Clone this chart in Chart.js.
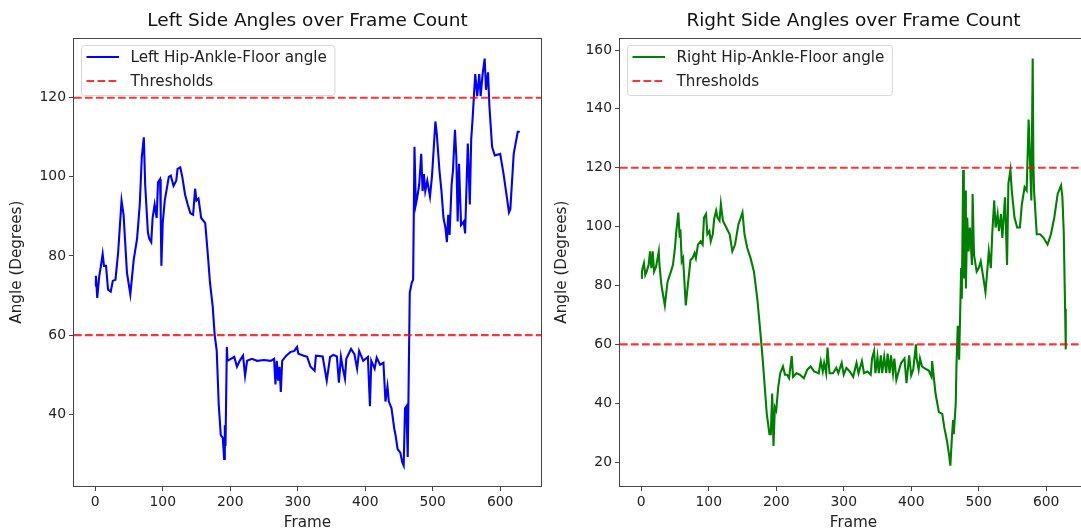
<!DOCTYPE html>
<html>
<head>
<meta charset="utf-8">
<script src="https://cdn.jsdelivr.net/npm/chart.js@4.4.0/dist/chart.umd.min.js"></script>
<style>
    html, body { margin: 0; padding: 0; background: #fff; overflow: hidden; width: 1081px; height: 532px; }
    .chart-box { position: absolute; top: 0; }
    #leftBox { left: 0; }
    #rightBox { left: 545px; }
</style>
</head>
<body>
<div class="chart-box" id="leftBox"><canvas id="leftChart" width="545" height="532"></canvas></div>
<div class="chart-box" id="rightBox"><canvas id="rightChart" width="560" height="532"></canvas></div>
<script>
// values (frame, angle)
const leftFrames = [0,1,3,6,8,11,13,16,19,23,26,30,34,39,42,47,52,57,62,66,69,72,74,78,80,83,85,88,91,93,
    96,97,98,100,103,109,112,116,120,122,126,129,133,137,141,145,148,150,153,157,163,167,170,174,177,180,183,186,189,191,
    192,193,195,196,201,206,210,214,219,222,225,232,240,250,260,265,267,269,271,273,275,277,283,289,295,299,301,309,314,319,
    325,327,337,343,348,353,358,361,364,367,370,372,379,384,388,391,397,404,407,409,414,417,422,427,430,433,435,439,443,445,
    448,452,455,457,459,461,463,466,469,471,473,475,477,480,483,485,487,489,492,496,499,504,506,510,513,516,519,521,523,525,
    528,530,533,535,537,539,542,546,548,552,555,557,559,563,566,569,571,574,577,579,582,584,588,592,600,605,610,613,615,620,
    626,629];
const leftAngles = [72.4,75,69.4,75,77,80.5,77.5,77.5,71.5,71,73.7,74,81,94,90.4,75.8,70.3,79,84.4,93,
    105,110,98,86,84.4,83.5,89.6,93,89.6,98.6,99.4,91,77.5,88.3,94,100,100.3,97.7,99,102,
    102.4,100,95.6,93,90.8,90.4,97,94,94.5,89.6,88.3,80,73.3,67.3,60,56.1,42.4,34.7,34,28.7,
    37.2,32,57,53.5,54,54.5,52,53.5,54.8,49.7,53.5,54,53.5,53.7,53.5,54,47.5,53.5,48.5,52,
    45.6,53.5,54.8,55.7,56,57,55.3,54.8,54.5,52,51,54.8,54.6,48.5,54.5,55,54.6,48,54.5,51.5,
    49,54,56.5,55.2,51.5,56,53.5,54.5,42,53.5,51.5,54.3,52.5,53,43.2,47,43.2,41.5,36.4,34.7,
    31.2,30.3,27.8,27,41.5,42,29.2,70.7,73.3,74,107.6,93,94.7,98,105.8,96.4,100.7,96.4,99,95,
    100.3,114,111,101.6,96.4,89.6,87,83.5,90.4,85.3,98,101.6,111.9,105,88.7,103.3,87.8,88.7,85.7,108.4,
    93,109.3,114.4,126,120.4,126,120.4,126,129.9,122,126.4,117.9,107.6,105.4,105.8,100.7,94.7,91,91.8,105.8,
    111.4,111.4];

const rightFrames = [0,1,2,4,6,8,11,13,15,17,19,22,26,27,30,35,39,44,47,50,
    52,55,57,58,60,62,66,69,73,76,79,81,84,88,91,93,96,98,101,103,
    106,108,111,113,116,118,121,126,131,135,139,144,146,150,153,157,162,167,172,177,
    180,183,186,190,192,194,196,198,200,203,206,210,213,216,219,223,225,230,235,241,
    246,251,256,263,266,269,271,274,276,279,284,289,292,297,300,304,309,314,319,322,
    327,330,335,340,342,345,347,350,352,355,357,360,363,365,368,370,373,375,378,380,
    385,390,393,397,400,403,407,408,411,413,416,421,426,430,431,436,441,446,449,453,
    456,458,460,462,463,466,467,469,471,473,474,475,477,478,480,481,483,485,487,490,
    491,493,497,500,503,507,510,513,515,518,520,523,525,528,530,533,535,539,542,544,
    547,549,553,557,561,564,568,571,574,576,578,580,581,582,586,591,596,602,607,612,
    617,622,624,626,628,629];
const rightAngles = [82.6,84.7,85.9,87.6,83.6,84.7,87,91.6,85.9,91.6,84.7,86.4,91.6,87,80,73.2,81.3,84.7,87,92.8,
    98.5,104.8,96.2,99.1,88.2,89.3,73.2,80,88.7,89.3,91,89.3,93.9,95,93.9,103.1,104.3,97.4,98.5,95,
    97.4,102.5,105.4,103.1,102,107.7,102,99.7,97.4,91.6,93.9,100.8,102,104.8,97.4,92.8,89.3,84.7,75.5,62.9,
    54.8,45.6,36.4,29.5,29.5,43.3,25.5,38.7,37.6,45.6,50.2,52.5,49.7,49.7,48.5,56,49,50.2,49.7,48.5,
    51.4,52.5,50.8,50.2,54.3,50.8,53.7,50.2,58.9,50.2,50.2,52,50.2,53.7,49.7,52,50.8,49,53.7,50.2,
    54.3,50.2,50.8,49.7,55.2,57.7,50.2,55.7,50.2,56.3,50.2,55.7,50.2,56.9,50.2,56.3,50.2,55.2,47.9,49.7,
    53.7,55.2,46.8,56.3,49.5,51.4,60,55.2,51.4,55.2,52.5,51.7,51.1,49,54.3,43.3,37,36.4,31.8,27.2,
    22.6,18.8,27.2,34.3,29.5,39.9,52.5,66.3,54.8,75.5,85.9,75.5,119.2,82.4,112.3,79,103.1,91.6,99.7,87,
    111.1,90.5,84.7,85.9,88.2,82.4,77.8,85.9,91.6,85.9,97.4,108.9,99.7,104.3,98.5,104.3,96.2,110,87,114.6,
    119.2,112.3,103.1,99.7,99.7,107.7,113.4,112.3,136.4,122.6,108.9,157.1,121.5,112.3,97.4,97.4,96.2,93.9,97.4,103.1,
    111.1,114,110,98,72,58.3];

const thresholds = [60, 120];
const xTicks = [0, 100, 200, 300, 400, 500, 600];
const leftYTicks = [40, 60, 80, 100, 120];
const rightYTicks = [20, 40, 60, 80, 100, 120, 140, 160];

const FONT = '"DejaVu Sans", "Liberation Sans", sans-serif';
const TEXT = '#222';
const SPINE = '#444';
const TICK_SIZE = 13.9;
const LABEL_SIZE = 15.2;

// matplotlib style 5% margins
function padRange(values) {
    const lo = Math.min(...values), hi = Math.max(...values);
    const m = (hi - lo) * 0.05;
    return [lo - m, hi + m];
}

// full box around the axes, like matplotlib spines
const spines = {
    id: 'spines',
    afterDatasetsDraw(chart) {
        const a = chart.chartArea;
        const ctx = chart.ctx;
        ctx.save();
        ctx.strokeStyle = SPINE;
        ctx.lineWidth = 1;
        ctx.strokeRect(Math.round(a.left) - 0.5, Math.round(a.top) + 0.5, Math.round(a.right - a.left) + 1, Math.round(a.bottom - a.top));
        ctx.restore();
    }
};

// legend drawn inside the axes at upper left
const innerLegend = {
    id: 'innerLegend',
    afterDraw(chart) {
        const a = chart.chartArea;
        const ctx = chart.ctx;
        const items = chart.data.datasets;
        ctx.save();
        ctx.font = LABEL_SIZE + 'px ' + FONT;
        const textW = Math.max(...items.map(d => ctx.measureText(d.label).width));
        const x = Math.round(a.left) + 7.5, y = Math.round(a.top) + 7.5;
        const w = 49 + textW + 8, h = 50;
        ctx.beginPath();
        ctx.roundRect(x, y, w, h, 3);
        ctx.fillStyle = 'rgba(255,255,255,0.8)';
        ctx.fill();
        ctx.strokeStyle = '#d6d6d6';
        ctx.lineWidth = 1;
        ctx.stroke();
        items.forEach((d, i) => {
            const rowY = y + 11.5 + i * 24;
            ctx.beginPath();
            ctx.setLineDash(d.borderDash || []);
            ctx.strokeStyle = d.borderColor;
            ctx.lineWidth = d.borderWidth;
            ctx.moveTo(x + 5, rowY);
            ctx.lineTo(x + 37.5, rowY);
            ctx.stroke();
            ctx.setLineDash([]);
            ctx.fillStyle = TEXT;
            ctx.textBaseline = 'middle';
            ctx.textAlign = 'left';
            ctx.fillText(d.label, x + 49, rowY + 1);
        });
        ctx.restore();
    }
};

function buildChart(canvasId, opts) {
    const [xMin, xMax] = padRange(opts.frames);
    const [yMin, yMax] = padRange(opts.angles);
    const points = opts.frames.map((f, i) => ({x: f, y: opts.angles[i]}));
    const threshPoints = [];
    thresholds.forEach((t, i) => {
        if (i > 0) threshPoints.push({x: xMax, y: null});
        threshPoints.push({x: xMin, y: t}, {x: xMax, y: t});
    });

    const data = {
        datasets: [{
            label: opts.label,
            data: points,
            borderColor: opts.color,
            borderWidth: 2.1,
            pointRadius: 0,
            tension: 0,
            order: 1
        }, {
            label: 'Thresholds',
            data: threshPoints,
            borderColor: 'rgba(255,0,0,0.8)',
            borderWidth: 2.1,
            borderDash: [7.7, 3.3],
            pointRadius: 0,
            spanGaps: false,
            order: 0
        }]
    };

    const config = {
        type: 'line',
        data: data,
        options: {
            responsive: false,
            animation: false,
            events: [],
            layout: { padding: { left: 0, right: opts.padRight, top: 0, bottom: 0 } },
            plugins: {
                legend: { display: false },
                tooltip: { enabled: false },
                title: {
                    display: true,
                    fullSize: false,
                    text: opts.title,
                    color: '#111',
                    font: { family: FONT, size: 18.5, weight: 'normal' },
                    padding: { top: 10, bottom: 6 }
                }
            },
            scales: {
                x: {
                    type: 'linear',
                    min: xMin,
                    max: xMax,
                    afterBuildTicks: s => { s.ticks = xTicks.map(v => ({value: v})); },
                    afterFit: s => { s.height = 46; },
                    border: { display: false },
                    grid: { drawOnChartArea: false, drawTicks: true, tickLength: 5, tickColor: SPINE, tickWidth: 1 },
                    ticks: { color: TEXT, padding: 3.5, maxRotation: 0, font: { family: FONT, size: TICK_SIZE } },
                    title: { display: true, text: 'Frame', color: TEXT, padding: { top: 0, bottom: 0 }, font: { family: FONT, size: LABEL_SIZE } }
                },
                y: {
                    type: 'linear',
                    min: yMin,
                    max: yMax,
                    afterBuildTicks: s => { s.ticks = opts.yTicks.map(v => ({value: v})); },
                    afterFit: s => { s.width = opts.areaLeft; },
                    border: { display: false },
                    grid: { drawOnChartArea: false, drawTicks: true, tickLength: 5, tickColor: SPINE, tickWidth: 1 },
                    ticks: { color: TEXT, padding: 3, font: { family: FONT, size: TICK_SIZE } },
                    title: { display: true, text: 'Angle (Degrees)', color: TEXT, padding: { top: 8, bottom: 0 }, font: { family: FONT, size: LABEL_SIZE } }
                }
            }
        },
        plugins: [spines, innerLegend]
    };
    return new Chart(document.getElementById(canvasId).getContext('2d'), config);
}

buildChart('leftChart', {
    frames: leftFrames,
    angles: leftAngles,
    yTicks: leftYTicks,
    label: 'Left Hip-Ankle-Floor angle',
    color: '#0000ff',
    title: 'Left Side Angles over Frame Count',
    areaLeft: 74,
    padRight: 4
});

buildChart('rightChart', {
    frames: rightFrames,
    angles: rightAngles,
    yTicks: rightYTicks,
    label: 'Right Hip-Ankle-Floor angle',
    color: '#008000',
    title: 'Right Side Angles over Frame Count',
    areaLeft: 75,
    padRight: 18
});
</script>
</body>
</html>
